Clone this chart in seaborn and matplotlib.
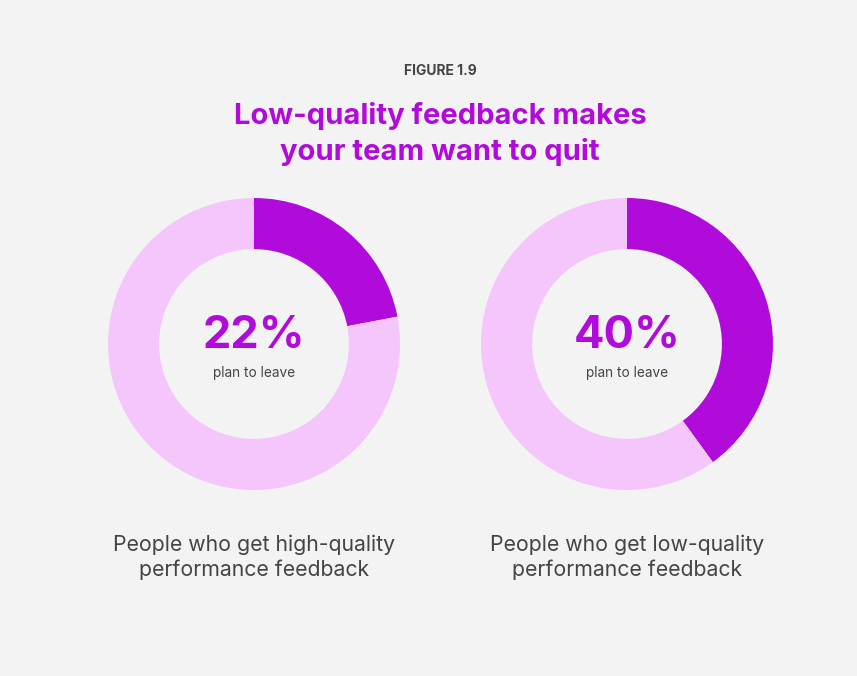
import matplotlib
matplotlib.use("Agg")
import matplotlib.pyplot as plt
import seaborn as sns

sns.set_theme(style="white")
plt.rcParams['font.family'] = ['Inter', 'DejaVu Sans']

# Data
groups = ["People who get high-quality\nperformance feedback",
          "People who get low-quality\nperformance feedback"]
plan_to_leave = [22, 40]
center_labels = ["22%", "40%"]
sub_label = "plan to leave"
title = "Low-quality feedback makes\nyour team want to quit"
kicker = "FIGURE 1.9"

BG = "#F3F3F3"
DARK = "#B10BDB"
LIGHT = "#F4C6FC"
GRAY = "#444444"

W, H = 857, 676
fig = plt.figure(figsize=(W / 100, H / 100), dpi=100, facecolor=BG)

centers_x = [254, 627]
cy = 344
R = 146

for i, (cx, val) in enumerate(zip(centers_x, plan_to_leave)):
    ax = fig.add_axes([(cx - R) / W, (H - cy - R) / H, 2 * R / W, 2 * R / H])
    ax.set_facecolor(BG)
    ax.pie([val, 100 - val], colors=[DARK, LIGHT], startangle=90,
           counterclock=False, radius=1,
           wedgeprops=dict(width=0.35, edgecolor="none", linewidth=0))
    ax.set_xlim(-1, 1)
    ax.set_ylim(-1, 1)
    ax.set_aspect("equal")
    ax.axis("off")
    fig.text(cx / W, 1 - 336 / H, center_labels[i], ha="center", va="center",
             fontsize=32.5, fontweight="bold", color=DARK)
    fig.text(cx / W, 1 - 373 / H, sub_label, ha="center", va="center",
             fontsize=9.8, color=GRAY)
    fig.text(cx / W, 1 - 557 / H, groups[i], ha="center", va="center",
             fontsize=15.3, color=GRAY, linespacing=1.3)

fig.text(440 / W, 1 - 71 / H, kicker, ha="center", va="center",
         fontsize=10, fontweight="bold", color=GRAY)
fig.text(440 / W, 1 - 134 / H, title, ha="center", va="center",
         fontsize=21, fontweight="bold", color=DARK, linespacing=1.38)

fig.savefig("out.png", dpi=100, facecolor=BG)
